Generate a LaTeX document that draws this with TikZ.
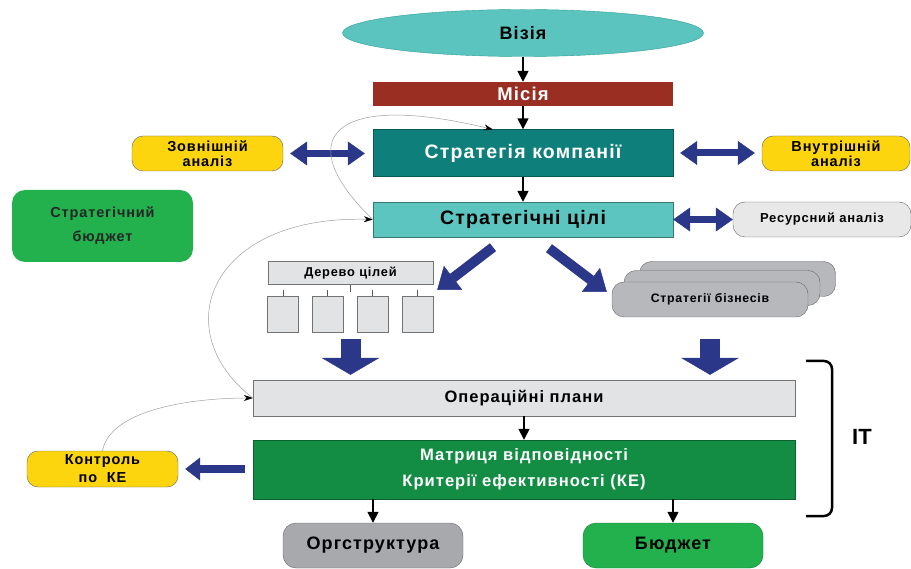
\documentclass[tikz,border=0pt]{standalone}
\usepackage{fontspec}
\setmainfont{Liberation Sans}
\newfontfamily\wide[LetterSpace=6]{Liberation Sans}
\usetikzlibrary{shapes.geometric,arrows.meta,calc}

\definecolor{visfill}{HTML}{5BC4BF}
\definecolor{visline}{HTML}{2E9E99}
\definecolor{misfill}{HTML}{9A2E22}
\definecolor{stratfill}{HTML}{0E7F7A}
\definecolor{goalfill}{HTML}{5DC5C0}
\definecolor{yelfill}{HTML}{FCD50F}
\definecolor{grnfill}{HTML}{22B14C}
\definecolor{matfill}{HTML}{138C44}
\definecolor{lgfill}{HTML}{E2E3E4}
\definecolor{bizfill}{HTML}{B6B8BB}
\definecolor{orgfill}{HTML}{A7A9AC}
\definecolor{arrblue}{HTML}{2B3788}

\newcommand\fsz[1]{\fontsize{#1}{#1}\selectfont}

\begin{document}
\begin{tikzpicture}[x=1pt,y=-1pt,
  base/.style={inner sep=0pt, align=center, font=\wide\bfseries\fsz{18}},
  bar/.style={base, rectangle, minimum width=300pt},
  pill/.style={base, rounded corners=11pt, draw=gray!80!black, font=\wide\bfseries\fontsize{14.5}{15}\selectfont},
  leaf/.style={rectangle, draw=gray!90!black, fill=lgfill, minimum width=31pt, minimum height=36pt, inner sep=0pt},
  biz/.style={pill, fill=bizfill, minimum width=196pt, minimum height=35pt, rounded corners=12pt},
  blk/.style={line width=1.6pt, -{Triangle[length=11pt,width=11pt]}},
  thin/.style={draw=gray!75, line width=0.5pt, -{Stealth[length=9pt,width=6pt,color=black]}},
  dbl/.style={draw=arrblue, line width=7pt,
    {Triangle[length=17pt,width=24pt,line width=0.5pt]}-{Triangle[length=17pt,width=24pt,line width=0.5pt]}},
  diag/.style={draw=arrblue, line width=10pt, -{Triangle[length=20pt,width=30pt,line width=0.5pt]}},
  bigdown/.style={draw=arrblue, line width=20pt, -{Triangle[length=17pt,width=58pt,line width=0.5pt]}}]

\useasboundingbox (0,0) rectangle (911,569);

%==== верхня частина ====
\node[base, ellipse, draw=visline, fill=visfill, minimum width=361pt, minimum height=47pt,
  font=\wide\bfseries\fsz{18}] (vision) at (523,33) {Візія};
\node[bar, fill=misfill, text=white, minimum height=24pt, font=\wide\bfseries\fsz{18.5}] (mission) at (523,94) {Місія};
\node[bar, fill=stratfill, draw=stratfill!70!black, text=white, minimum height=47pt,
  font=\wide\bfseries\fsz{19.5}] (strategy) at (523,153) {Стратегія компанії};
\node[bar, fill=goalfill, draw=goalfill!60!black, minimum height=35pt,
  font=\wide\bfseries\fsz{19.5}] (goals) at (523,219.5) {Стратегічні цілі};

\draw[blk] (vision) -- (mission);
\draw[blk] (mission) -- (strategy);
\draw[blk] (strategy) -- (goals);

%==== аналіз ====
\node[pill, fill=yelfill, minimum width=151pt, minimum height=35pt] (ext) at (207.5,153.5) {Зовнішній\\аналіз};
\node[pill, fill=yelfill, minimum width=148pt, minimum height=35pt] (int) at (836,153.5) {Внутрішній\\аналіз};
\node[pill, fill=gray!18, minimum width=178pt, minimum height=35pt, rounded corners=12pt,
  font=\wide\bfseries\fsz{13}] (res) at (822,219.5) {Ресурсний аналіз};
\node[pill, draw=none, fill=grnfill, minimum width=181pt, minimum height=72pt, rounded corners=13pt,
  font=\wide\bfseries\fontsize{14.5}{24}\selectfont, text=black!85] (sbudget) at (102.5,226) {Стратегічний\\бюджет};

\draw[dbl, shorten <=7pt, shorten >=8pt] (ext.east) -- (ext.east -| strategy.west);
\draw[dbl, shorten <=7pt, shorten >=7pt] (strategy.east) -- (strategy.east -| int.west);
\draw[dbl] (goals.east) -- (res.west);

%==== дерево цілей ====
\node[base, rectangle, draw=gray!90!black, fill=lgfill, minimum width=165pt, minimum height=23pt,
  font=\wide\bfseries\fsz{12.8}] (tree) at (350.5,273) {Дерево цілей};
\foreach \i/\x in {1/283,2/327.5,3/372.5,4/417.5}{
  \node[leaf] (l\i) at (\x,314) {};
  \draw[gray!70!black, line width=0.6pt] (l\i.north) -- ++(0,-6);
}
\draw[gray!70!black, line width=0.6pt] (tree.south) -- ++(0,7);

%==== стратегії бізнесів ====
\node[biz] (biz3) at (737.5,279) {};
\node[biz] (biz2) at (722,288) {};
\node[biz, font=\wide\bfseries\fsz{12.3}] (biz) at (710,299.5) {Стратегії бізнесів};

\draw[diag] ([shift={(-30,10)}]goals.south) -- ([shift={(4,17)}]tree.east);
\draw[diag] ([shift={(26,11)}]goals.south) -- ([shift={(-5,-7.5)}]biz.west);

%==== плани ====
\node[base, rectangle, draw=gray!90!black, fill=lgfill, minimum width=542pt, minimum height=36pt,
  font=\wide\bfseries\fsz{16.5}] (plans) at (524,398) {Операційні плани};
\node[base, rectangle, draw=matfill!70!black, fill=matfill, text=white, minimum width=542pt, minimum height=59pt,
  font=\wide\bfseries\fontsize{16.6}{26}\selectfont] (matrix) at (524,469.5) {Матриця відповідності\\Критерії ефективності (КЕ)};

\draw[bigdown, shorten <=7pt, shorten >=5pt] (tree.south |- l1.south) -- (tree.south |- plans.north);
\draw[bigdown, shorten <=22pt, shorten >=5pt] (biz.south) -- (biz.south |- plans.north);
\draw[blk] (plans) -- (matrix);

%==== нижня частина ====
\node[pill, fill=yelfill, minimum width=151pt, minimum height=36pt,
  font=\wide\bfseries\fontsize{14.5}{18}\selectfont] (control) at (102.5,469) {Контроль\\по~~КЕ};
\node[pill, fill=orgfill, minimum width=180pt, minimum height=45pt, rounded corners=13pt,
  font=\wide\bfseries\fsz{18}] (org) at (373,545.5) {Оргструктура};
\node[pill, draw=grnfill!70!black, fill=grnfill, minimum width=180pt, minimum height=45pt, rounded corners=13pt,
  font=\wide\bfseries\fsz{18}] (budget) at (673,545.5) {Бюджет};

\draw[diag, line width=8pt, -{Triangle[length=15pt,width=23pt,line width=0.5pt]},
  shorten <=8pt, shorten >=7pt] (matrix.west |- control.east) -- (control.east);
\draw[blk] (matrix.south -| org.north) -- (org.north);
\draw[blk] (matrix.south -| budget.north) -- (budget.north);

%==== зворотні зв'язки ====
\coordinate (stop) at (493,129.5);
\draw[thin] (control.north) .. controls (110,410) and (190,398) .. (plans.west);
\draw[thin] (plans.west) .. controls (165,330) and (210,215) .. (goals.west);
\draw[thin] (goals.west) .. controls (290,140) and (330,90) .. (stop);

%==== IT ====
\draw[line width=2.5pt, rounded corners=8pt] (806,361) -- (832,361) -- (832,516) -- (806,516);
\node[base, font=\bfseries\fsz{22}] (it) at (862,437) {IT};

\end{tikzpicture}
\end{document}
